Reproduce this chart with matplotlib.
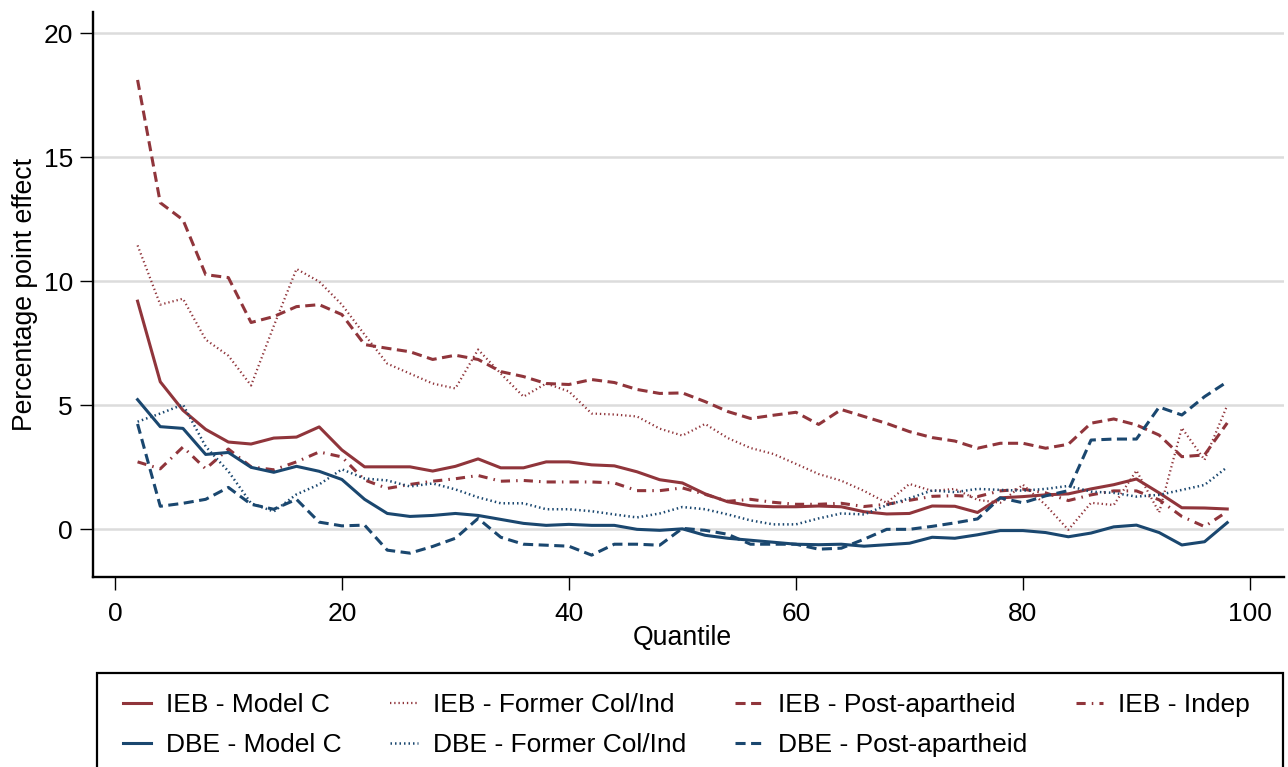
import matplotlib
matplotlib.use("Agg")

import matplotlib.pyplot as plt
import numpy as np
from matplotlib.patches import Rectangle

# quantiles 2..98
quantile = np.arange(2, 100, 2)

ieb_model_c = [9.2, 5.95, 4.8, 4.03, 3.52, 3.44, 3.68, 3.72, 4.13, 3.2,
               2.52, 2.52, 2.52, 2.35, 2.54, 2.84, 2.48, 2.48, 2.72, 2.72,
               2.6, 2.56, 2.32, 2.0, 1.87, 1.43, 1.11, 0.95, 0.91, 0.91,
               0.94, 0.91, 0.71, 0.62, 0.64, 0.94, 0.93, 0.68, 1.27, 1.32,
               1.39, 1.43, 1.63, 1.8, 2.03, 1.47, 0.87, 0.86, 0.82]

ieb_former = [11.45, 9.06, 9.3, 7.65, 7.0, 5.8, 8.2, 10.5, 9.99, 9.06,
              7.85, 6.68, 6.28, 5.88, 5.68, 7.25, 6.28, 5.35, 5.88, 5.56,
              4.67, 4.63, 4.55, 4.06, 3.78, 4.25, 3.68, 3.28, 3.04, 2.64,
              2.23, 1.96, 1.55, 1.07, 1.83, 1.55, 1.63, 1.19, 1.07, 1.8,
              0.98, -0.02, 1.07, 0.98, 2.37, 0.68, 4.09, 2.8, 5.0]

ieb_post = [18.12, 13.17, 12.48, 10.27, 10.15, 8.34, 8.58, 8.98, 9.06, 8.66,
            7.45, 7.3, 7.16, 6.85, 7.02, 6.85, 6.36, 6.16, 5.88, 5.84,
            6.04, 5.92, 5.64, 5.48, 5.5, 5.15, 4.75, 4.47, 4.6, 4.72,
            4.23, 4.83, 4.55, 4.27, 3.94, 3.7, 3.56, 3.27, 3.47, 3.47,
            3.27, 3.43, 4.28, 4.45, 4.21, 3.8, 2.93, 3.0, 4.29]

ieb_indep = [2.72, 2.44, 3.32, 2.44, 3.24, 2.52, 2.4, 2.72, 3.12, 2.92,
             1.99, 1.65, 1.81, 1.94, 2.04, 2.17, 1.94, 1.97, 1.91, 1.91,
             1.91, 1.87, 1.56, 1.56, 1.67, 1.41, 1.13, 1.21, 1.09, 1.01,
             1.01, 1.05, 0.92, 1.01, 1.17, 1.33, 1.36, 1.32, 1.55, 1.62,
             1.47, 1.16, 1.39, 1.55, 1.55, 1.19, 0.52, 0.11, 0.72]

dbe_model_c = [5.23, 4.14, 4.07, 3.02, 3.1, 2.5, 2.3, 2.54, 2.34, 2.01,
               1.21, 0.64, 0.52, 0.56, 0.64, 0.56, 0.4, 0.24, 0.16, 0.2,
               0.16, 0.16, 0.0, -0.04, 0.02, -0.24, -0.36, -0.44, -0.52, -0.6,
               -0.62, -0.6, -0.68, -0.62, -0.56, -0.32, -0.36, -0.22, -0.05, -0.05,
               -0.13, -0.3, -0.15, 0.1, 0.17, -0.13, -0.63, -0.5, 0.27]

dbe_former = [4.34, 4.67, 5.03, 3.34, 2.34, 1.05, 0.72, 1.41, 1.81, 2.42,
              2.05, 1.97, 1.73, 1.85, 1.61, 1.29, 1.05, 1.05, 0.81, 0.81,
              0.73, 0.6, 0.48, 0.64, 0.9, 0.81, 0.6, 0.36, 0.2, 0.2,
              0.44, 0.64, 0.6, 0.97, 1.25, 1.57, 1.5, 1.63, 1.59, 1.56,
              1.63, 1.75, 1.52, 1.47, 1.32, 1.39, 1.59, 1.79, 2.51]

dbe_post = [4.25, 0.93, 1.05, 1.21, 1.69, 1.01, 0.81, 1.21, 0.29, 0.14,
            0.17, -0.84, -0.96, -0.69, -0.36, 0.44, -0.32, -0.6, -0.64, -0.68,
            -1.04, -0.6, -0.6, -0.64, 0.04, -0.04, -0.2, -0.6, -0.6, -0.6,
            -0.8, -0.76, -0.4, 0.0, 0.0, 0.12, 0.26, 0.42, 1.27, 1.07,
            1.35, 1.56, 3.6, 3.64, 3.64, 4.93, 4.61, 5.35, 5.95]

RED = "#90353B"
BLUE = "#1A476F"

plt.rcParams["font.family"] = ["Liberation Sans", "DejaVu Sans"]

W, H = 1288, 767
fig = plt.figure(figsize=(W / 100, H / 100), dpi=100)
ax = fig.add_axes([93.3 / W, 1 - 576.7 / H, (1284 - 93.3) / W, (576.7 - 12) / H])

series = [
    ("IEB - Model C", ieb_model_c, RED, 2.2, None),
    ("IEB - Former Col/Ind", ieb_former, RED, 1.6, (0.6, 1.3)),
    ("IEB - Post-apartheid", ieb_post, RED, 2.2, (3.3, 1.8)),
    ("IEB - Indep", ieb_indep, RED, 2.2, (3.0, 2.0, 0.5, 2.0)),
    ("DBE - Model C", dbe_model_c, BLUE, 2.2, None),
    ("DBE - Former Col/Ind", dbe_former, BLUE, 1.8, (0.6, 1.2)),
    ("DBE - Post-apartheid", dbe_post, BLUE, 2.2, (3.3, 1.8)),
]

lines = {}
for label, vals, color, lw, dash in series:
    (ln,) = ax.plot(quantile, vals, color=color, lw=lw, label=label)
    if dash is not None:
        ln.set_dashes(dash)
    lines[label] = ln

ax.set_xlim(-1.9, 103)
ax.set_ylim(-1.91, 20.86)
ax.set_xticks([0, 20, 40, 60, 80, 100])
ax.set_yticks([0, 5, 10, 15, 20])
ax.yaxis.grid(True, color="#DCDCDC", lw=1.8)
ax.set_axisbelow(True)

for side in ("top", "right"):
    ax.spines[side].set_visible(False)
for side in ("left", "bottom"):
    ax.spines[side].set_linewidth(1.7)
    ax.spines[side].set_color("black")

ax.tick_params(axis="both", direction="out", length=9.4, width=1.0,
               labelsize=19, colors="black")
ax.tick_params(axis="x", pad=9.0)
ax.tick_params(axis="y", pad=5.3)

ax.set_xlabel("Quantile", fontsize=19.2)
ax.set_ylabel("Percentage point effect", fontsize=19.2)
ax.xaxis.set_label_coords(0.495, -0.0855)
ax.yaxis.set_label_coords(-0.0465, 0.5)

# legend frame (runs past the bottom edge, as in the original)
fig.patches.append(Rectangle((97 / W, 1 - 830 / H), (1283 - 97) / W, (830 - 673) / H,
                             transform=fig.transFigure, facecolor="white",
                             edgecolor="black", lw=1.6))

order = ["IEB - Model C", "DBE - Model C", "IEB - Former Col/Ind",
         "DBE - Former Col/Ind", "IEB - Post-apartheid", "DBE - Post-apartheid",
         "IEB - Indep"]
fig.legend([lines[k] for k in order], order, ncol=4, mode="expand",
           loc="upper left",
           bbox_to_anchor=(123 / W, 0, (1250 - 123) / W, 1 - 693 / H),
           borderaxespad=0, borderpad=0, frameon=False, fontsize=19,
           handlelength=1.05, handletextpad=0.57, labelspacing=0.6)

fig.savefig("out.png", dpi=100)
